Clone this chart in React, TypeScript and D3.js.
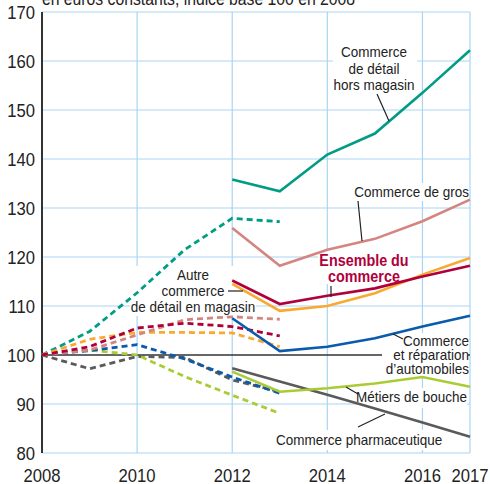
import React from "react";
import * as d3 from "d3";

const title = "en euros constants, indice base 100 en 2008";
const yearTicks = [2008, 2010, 2012, 2014, 2016, 2017];
const valueTicks = [80, 90, 100, 110, 120, 130, 140, 150, 160, 170];
const yearsOld = [2008, 2009, 2010, 2011, 2012, 2013];
const yearsNew = [2012, 2013, 2014, 2015, 2016, 2017];

// solid series (new base), 2012-2017
const horsMagasin = [135.8, 133.4, 140.9, 145.2, 153.5, 162.2];
const gros = [125.9, 118.2, 121.5, 123.7, 127.3, 131.7];
const ensemble = [115.2, 110.4, 112.1, 113.6, 116.0, 118.2];
const autreMagasin = [114.5, 109.0, 110.0, 112.6, 116.4, 119.8];
const automobiles = [107.5, 100.8, 101.7, 103.4, 105.8, 108.0];
const bouche = [96.6, 92.5, 93.2, 94.2, 95.5, 93.5];
const pharma = [97.3, 94.6, 91.9, 89.1, 86.2, 83.3];

// dashed series (old base), 2008-2013
const horsMagasinOld = [100, 104.8, 112.7, 121.5, 127.9, 127.2];
const grosOld = [100, 101.0, 104.1, 107.2, 107.8, 107.3];
const ensembleOld = [100, 101.7, 105.5, 106.5, 105.8, 103.9];
const autreMagasinOld = [100, 103.2, 104.6, 104.6, 104.5, 101.7];
const automobilesOld = [100, 100.9, 102.1, 99.2, 95.5, 92.2];
const boucheOld = [100, 101.0, 100.0, 95.6, 91.8, 88.1];
const pharmaOld = [100, 97.2, 99.7, 99.5, 94.9, 92.5];

const C = {
  teal: "#009c84",
  pink: "#d4857f",
  red: "#b0003c",
  orange: "#f9a930",
  blue: "#0a5bab",
  green: "#a9cc35",
  grey: "#5a5a5a",
};

const FONT = "'Liberation Sans', Arial, sans-serif";
const SX = 0.9;

function T(props: {
  x: number; y: number; size: number; anchor?: string; bold?: boolean; fill?: string; sx?: number; children: any;
}) {
  const { x, y, size, anchor = "start", bold, fill = "#222", sx = SX, children } = props;
  return (
    <text
      transform={`translate(${x},${y}) scale(${sx},1)`}
      fontSize={size}
      textAnchor={anchor}
      fontWeight={bold ? "bold" : "normal"}
      fill={fill}
    >
      {children}
    </text>
  );
}

export default function App() {
  const W = 490, H = 484;
  const x = d3.scaleLinear().domain([2008, 2017]).range([42, 470]);
  const y = d3.scaleLinear().domain([80, 170]).range([453, 12]);
  const line = (xs: number[]) =>
    d3.line<number>().x((_, i) => x(xs[i])).y((v) => y(v));

  const oldSeries = [
    { v: horsMagasinOld, c: C.teal },
    { v: pharmaOld, c: C.grey },
    { v: boucheOld, c: C.green },
    { v: automobilesOld, c: C.blue },
    { v: autreMagasinOld, c: C.orange },
    { v: grosOld, c: C.pink },
    { v: ensembleOld, c: C.red },
  ];
  const newSeries = [
    { v: horsMagasin, c: C.teal },
    { v: gros, c: C.pink },
    { v: pharma, c: C.grey },
    { v: bouche, c: C.green },
    { v: automobiles, c: C.blue },
    { v: autreMagasin, c: C.orange },
    { v: ensemble, c: C.red },
  ];

  const boxes = [
    [333, 40, 84, 52],
    [130, 266, 126, 50],
    [318, 250, 92, 34],
    [352, 183, 116, 18],
    [382, 333, 86, 45],
    [357, 388, 110, 20],
    [274, 430, 172, 20],
  ];

  const ann = 15;

  return (
    <svg width={W} height={H} style={{ position: "absolute", left: 0, top: 0, background: "#fff" }} fontFamily={FONT}>
      {/* grid */}
      {valueTicks.filter((t) => t !== 100).map((t) => (
        <line key={"h" + t} x1={x(2008)} x2={x(2017)} y1={y(t)} y2={y(t)} stroke="#a9d5f3" strokeWidth={1.2} />
      ))}
      {yearTicks.filter((t) => t !== 2008).map((t) => (
        <line key={"v" + t} x1={x(t)} x2={x(t)} y1={y(170)} y2={y(80)} stroke="#a9d5f3" strokeWidth={1.2} />
      ))}
      {/* label backgrounds */}
      {boxes.map((b, i) => (
        <rect key={"b" + i} x={b[0]} y={b[1]} width={b[2]} height={b[3]} fill="#fff" />
      ))}
      {/* axis */}
      <line x1={x(2008)} x2={x(2008)} y1={y(170)} y2={y(80)} stroke="#333" strokeWidth={2} />
      <line x1={x(2008)} x2={x(2017)} y1={y(100)} y2={y(100)} stroke="#333" strokeWidth={1.5} />
      <rect x={382} y={340} width={86} height={36} fill="#fff" />

      {/* dashed old series */}
      {oldSeries.map((s, i) => (
        <path key={"o" + i} d={line(yearsOld)(s.v) || ""} fill="none" stroke={s.c} strokeWidth={2.8} strokeDasharray="6,4" />
      ))}
      {/* solid new series */}
      {newSeries.map((s, i) => (
        <path key={"n" + i} d={line(yearsNew)(s.v) || ""} fill="none" stroke={s.c} strokeWidth={2.6} />
      ))}

      {/* tick labels */}
      {valueTicks.map((t) => (
        <T key={"yt" + t} x={35} y={y(t) + 6.5} anchor="end" size={18.5}>{t}</T>
      ))}
      {yearTicks.map((t) => (
        <T key={"xt" + t} x={x(t)} y={482} anchor="middle" size={18.5}>{t}</T>
      ))}
      <T x={42} y={5} size={17.5}>{title}</T>

      {/* annotations */}
      <T x={374} y={57} size={ann} anchor="middle">Commerce</T>
      <T x={374} y={74} size={ann} anchor="middle">de détail</T>
      <T x={374} y={90} size={ann} anchor="middle">hors magasin</T>
      <line x1={377} y1={94} x2={389} y2={121} stroke="#222" strokeWidth={1.2} />

      <T x={469} y={197} size={ann} anchor="end">Commerce de gros</T>
      <line x1={358} y1={201} x2={362} y2={241} stroke="#222" strokeWidth={1.2} />

      <T x={193} y={280} size={ann} anchor="middle">Autre</T>
      <T x={193} y={296} size={ann} anchor="middle">commerce</T>
      <T x={193} y={312} size={ann} anchor="middle">de détail en magasin</T>
      <line x1={228} y1={291} x2={243} y2={291} stroke="#222" strokeWidth={1.2} />

      <T x={469} y={346} size={ann} anchor="end">Commerce</T>
      <T x={469} y={360} size={ann} anchor="end">et réparation</T>
      <T x={469} y={374} size={ann} anchor="end">d’automobiles</T>
      <line x1={393} y1={334} x2={403} y2={339} stroke="#222" strokeWidth={1.2} />

      <T x={467} y={402} size={ann} anchor="end">Métiers de bouche</T>
      <line x1={346} y1={387} x2={358} y2={394} stroke="#222" strokeWidth={1.2} />

      <T x={276} y={445} size={ann}>Commerce pharmaceutique</T>
      <line x1={358} y1={427} x2={385} y2={414} stroke="#222" strokeWidth={1.2} />

      <T x={364} y={266} size={16.5} anchor="middle" bold fill={C.red} sx={0.87}>Ensemble du</T>
      <T x={364} y={282} size={16.5} anchor="middle" bold fill={C.red} sx={0.87}>commerce</T>
      <line x1={331} y1={286} x2={331} y2={297} stroke="#222" strokeWidth={1.2} />
    </svg>
  );
}
